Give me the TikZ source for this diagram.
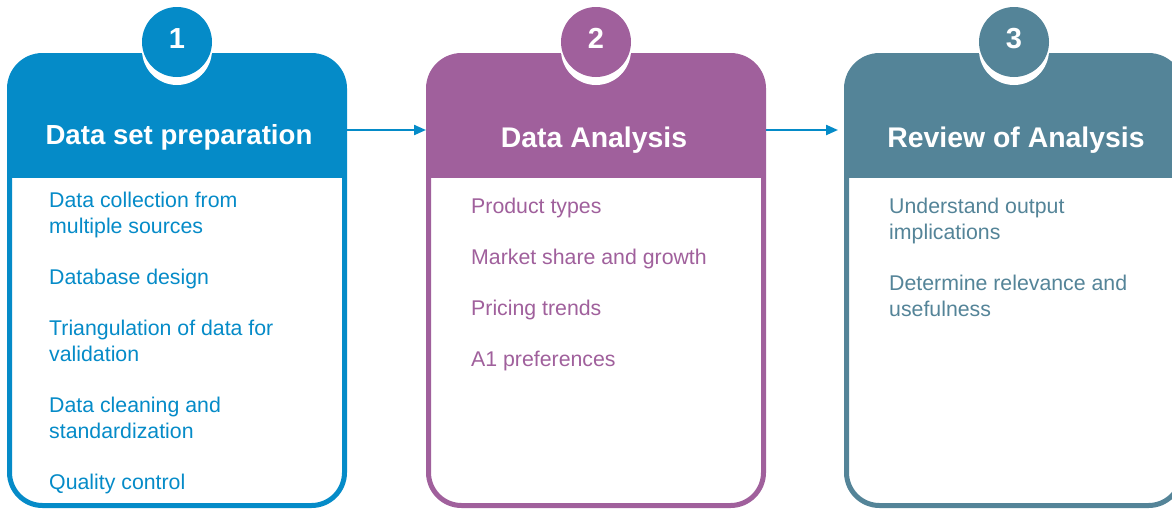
\documentclass[tikz,border=0pt]{standalone}
\usepackage{fontspec}
\setmainfont{Liberation Sans}
\usepackage{tikz}
\usetikzlibrary{arrows.meta, positioning}

\definecolor{stepblue}{RGB}{5,139,200}
\definecolor{steppurple}{RGB}{160,96,156}
\definecolor{stepteal}{RGB}{84,132,152}

\begin{document}
\begin{tikzpicture}[
    x=1pt, y=-1pt,
    card/.style={rectangle, rounded corners=33pt, draw=#1, fill=white, line width=5pt,
        minimum width=335pt, minimum height=450pt, inner sep=0pt,
        path picture={\fill[#1, sharp corners] (path picture bounding box.north west) rectangle ([yshift=-122.5pt]path picture bounding box.north east);}},
    badge/.style={circle, fill=#1, minimum size=70pt, inner sep=0pt},
    notch/.style={circle, fill=white, minimum size=70pt, inner sep=0pt},
    num/.style={anchor=base, text=white, font=\fontsize{29}{29}\selectfont\bfseries, inner sep=0pt},
    heading/.style={anchor=base, text=white, font=\fontsize{28.4}{30}\selectfont\bfseries, inner sep=0pt},
    items/.style={anchor=north west, text=#1, align=left, inner sep=0pt,
        font=\fontsize{21.3}{26}\selectfont},
    flow/.style={draw=stepblue, line width=2.2pt, -{Triangle[length=12pt, width=10pt]}}
]
\useasboundingbox (0,0) rectangle (1172,509);
\clip (0,0) rectangle (1172,509);

% Cards
\node[card=stepblue] (card1) at (177,280.5) {};
\node[card=steppurple] (card2) at (596,280.5) {};
\node[card=stepteal] (card3) at (1014,280.5) {};

% Step numbers on top of the cards
\node[notch] (notch1) at (177,50) {};
\node[notch] (notch2) at (596,50) {};
\node[notch] (notch3) at (1014,50) {};
\node[badge=stepblue] (badge1) at (177,42) {};
\node[badge=steppurple] (badge2) at (596,42) {};
\node[badge=stepteal] (badge3) at (1014,42) {};
\node[num] (num1) at (177,48) {1};
\node[num] (num2) at (596,48) {2};
\node[num] (num3) at (1014,48) {3};

% Headings
\node[heading, font=\fontsize{27.6}{30}\selectfont\bfseries] (title1) at (179,144) {Data set preparation};
\node[heading] (title2) at (594,147) {Data Analysis};
\node[heading] (title3) at (1016,147) {Review of Analysis};

% Card contents
\node[items=stepblue] (body1) at (49,192) {Data collection from\\multiple sources\\[25pt]
    Database design\\[25pt]
    Triangulation of data for\\validation\\[25pt]
    Data cleaning and\\standardization\\[25pt]
    Quality control};
\node[items=steppurple] (body2) at (471,198) {Product types\\[25pt]
    Market share and growth\\[25pt]
    Pricing trends\\[25pt]
    A1 preferences};
\node[items=stepteal] (body3) at (889,198) {Understand output\\implications\\[25pt]
    Determine relevance and\\usefulness};

% Connectors
\draw[flow] ([yshift=150.5pt]card1.east) -- ([yshift=150.5pt]card2.west);
\draw[flow] ([yshift=150.5pt]card2.east) -- ([xshift=-6pt, yshift=150.5pt]card3.west);

\end{tikzpicture}
\end{document}
